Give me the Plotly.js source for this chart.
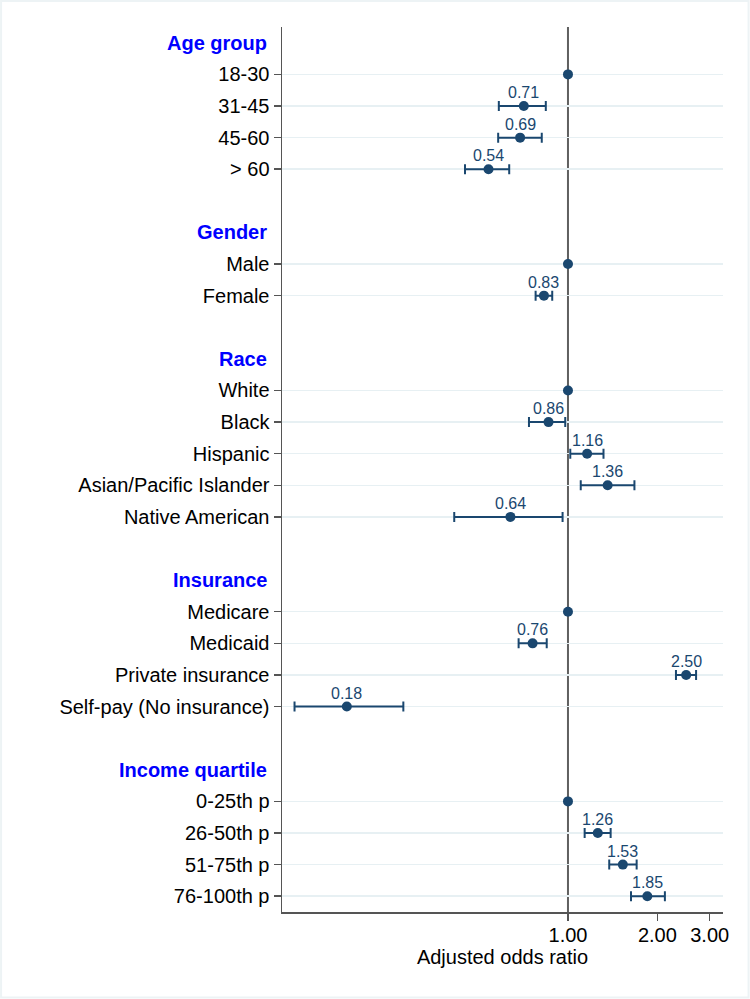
<!DOCTYPE html>
<html>
<head>
<meta charset="utf-8">
<script src="https://cdn.plot.ly/plotly-3.0.1.min.js"></script>
<style>
html,body{margin:0;padding:0;background:#fff;}
#chart{width:750px;height:999px;}
</style>
</head>
<body>
<div id="chart"></div>
<script>
// ---- data ----
var groupHeaders = ["Age group", "Gender", "Race", "Insurance", "Income quartile"];
var groupSizes = [4, 2, 5, 4, 4];
var itemLabels = [
  "18-30", "31-45", "45-60", "> 60",
  "Male", "Female",
  "White", "Black", "Hispanic", "Asian/Pacific Islander", "Native American",
  "Medicare", "Medicaid", "Private insurance", "Self-pay (No insurance)",
  "0-25th p", "26-50th p", "51-75th p", "76-100th p"
];
var oddsRatio = [
  1.00, 0.71, 0.69, 0.54,
  1.00, 0.83,
  1.00, 0.86, 1.16, 1.36, 0.64,
  1.00, 0.76, 2.50, 0.18,
  1.00, 1.26, 1.53, 1.85
];
var ciLow = [
  null, 0.585, 0.582, 0.450,
  null, 0.778,
  null, 0.739, 1.018, 1.104, 0.414,
  null, 0.682, 2.31, 0.120,
  null, 1.138, 1.377, 1.630
];
var ciHigh = [
  null, 0.842, 0.816, 0.634,
  null, 0.885,
  null, 0.979, 1.317, 1.674, 0.959,
  null, 0.848, 2.70, 0.279,
  null, 1.392, 1.703, 2.12
];
var isReference = [
  true, false, false, false,
  true, false,
  true, false, false, false, false,
  true, false, false, false,
  true, false, false, false
];
var xTickVals = [1, 2, 3];
var xTickText = ["1.00", "2.00", "3.00"];
var xAxisTitle = "Adjusted odds ratio";

// ---- layout rows built from groups ----
var headerRows = [], itemRows = [];
var r = 0;
for (var g = 0; g < groupHeaders.length; g++) {
  headerRows.push(r); r++;
  for (var j = 0; j < groupSizes[g]; j++) { itemRows.push(r); r++; }
  r++; // blank spacer row
}
var lastRow = r - 2;

var navy = "#1a476f";
var font = "Liberation Sans, Arial, Helvetica, sans-serif";

var refX = [], refY = [], estX = [], estY = [], ePlus = [], eMinus = [];
var annotations = [];
for (var i = 0; i < itemLabels.length; i++) {
  if (isReference[i]) { refX.push(oddsRatio[i]); refY.push(itemRows[i]); }
  else {
    estX.push(oddsRatio[i]); estY.push(itemRows[i]);
    ePlus.push(ciHigh[i] - oddsRatio[i]);
    eMinus.push(oddsRatio[i] - ciLow[i]);
    annotations.push({
      text: oddsRatio[i].toFixed(2), xref: "x", yref: "y",
      x: Math.log10(oddsRatio[i]), y: itemRows[i],
      xanchor: "center", yanchor: "middle", yshift: 13.5,
      showarrow: false, font: {family: font, size: 16, color: navy}
    });
  }
}

var traces = [
  {
    type: "scatter", mode: "markers", x: estX, y: estY,
    marker: {color: navy, size: 10},
    error_x: {type: "data", symmetric: false, array: ePlus, arrayminus: eMinus,
              color: navy, thickness: 2, width: 5},
    cliponaxis: false, showlegend: false
  },
  {
    type: "scatter", mode: "markers", x: refX, y: refY,
    marker: {color: navy, size: 10}, cliponaxis: false, showlegend: false
  }
];

for (var h = 0; h < groupHeaders.length; h++) {
  annotations.push({
    text: "<b>" + groupHeaders[h] + "</b>", xref: "paper", x: 0, xshift: -13,
    xanchor: "right", yref: "y", y: headerRows[h], yanchor: "middle",
    showarrow: false, font: {family: font, size: 20, color: "#0000ff"}
  });
}

var layout = {
  width: 750, height: 999,
  margin: {l: 282, r: 27, t: 27, b: 87},
  paper_bgcolor: "#ffffff", plot_bgcolor: "#ffffff",
  font: {family: font, size: 20, color: "#000000"},
  showlegend: false,
  xaxis: {
    type: "log", range: [-0.963, 0.522],
    tickvals: xTickVals, ticktext: xTickText,
    ticks: "outside", ticklen: 7, tickwidth: 1.5, tickcolor: "#555555",
    ticklabelstandoff: -3,
    showline: true, linecolor: "#555555", linewidth: 1.5,
    showgrid: false, zeroline: false,
    tickfont: {family: font, size: 20, color: "#000000"},
    title: {text: xAxisTitle, font: {family: font, size: 20, color: "#000000"}, standoff: 4}
  },
  yaxis: {
    range: [lastRow + 0.5, -0.5],
    tickvals: itemRows, ticktext: itemLabels,
    ticks: "outside", ticklen: 7, tickwidth: 1.5, tickcolor: "#555555",
    showline: true, linecolor: "#555555", linewidth: 1.5,
    showgrid: true, gridcolor: "#e7f0f3", gridwidth: 1.5,
    zeroline: false,
    tickfont: {family: font, size: 20, color: "#000000"}
  },
  shapes: [
    {type: "line", xref: "x", yref: "paper", x0: 1, x1: 1, y0: 0, y1: 1,
     line: {color: "#606060", width: 2}, layer: "below"},
    {type: "rect", xref: "paper", yref: "paper",
     x0: -0.637, x1: 1.058, y0: -0.0966, y1: 1.0294,
     line: {color: "#edf3f5", width: 2}, fillcolor: "rgba(0,0,0,0)", layer: "below"}
  ],
  annotations: annotations
};

Plotly.newPlot("chart", traces, layout, {displayModeBar: false, staticPlot: true});
</script>
</body>
</html>
